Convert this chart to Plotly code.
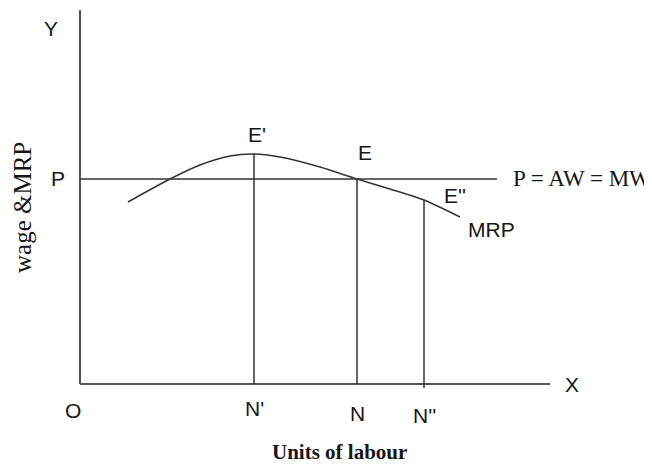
import plotly.graph_objects as go

# MRP curve (units of labour vs wage/MRP, arbitrary units)
mrp_x = [48, 90, 120, 150, 174, 200, 240, 277, 310, 344, 380]
mrp_y = [182, 205, 219, 228, 230, 227, 217, 205, 195, 184, 167]

wage_level = 205          # P = AW = MW
wage_end = 417
n_points = [174, 277, 344]          # N', N, N''
n_values = [230, 205, 184]          # E', E, E''
n_labels = ["N'", "N", "N''"]
e_labels = ["E'", "E", "E''"]
y_axis_top = 374
x_axis_end = 470

LINE = "#333333"
AX = "#555555"
SANS = "Arial, Liberation Sans, sans-serif"
SERIF = "Times New Roman, Liberation Serif, serif"

fig = go.Figure()

# axes
fig.add_trace(go.Scatter(x=[0, 0], y=[0, y_axis_top], mode="lines",
                         line=dict(color=AX, width=2), hoverinfo="skip"))
fig.add_trace(go.Scatter(x=[0, x_axis_end], y=[0, 0], mode="lines",
                         line=dict(color=AX, width=2), hoverinfo="skip"))
# wage line
fig.add_trace(go.Scatter(x=[0, wage_end], y=[wage_level, wage_level], mode="lines",
                         line=dict(color=LINE, width=1.6), hoverinfo="skip"))
# MRP curve
fig.add_trace(go.Scatter(x=mrp_x, y=mrp_y, mode="lines",
                         line=dict(color=LINE, width=1.5, shape="spline", smoothing=0.8),
                         hoverinfo="skip"))
# vertical lines
for i, (nx, ny) in enumerate(zip(n_points, n_values)):
    bottom = -4 if i == 2 else 0
    fig.add_trace(go.Scatter(x=[nx, nx], y=[bottom, ny], mode="lines",
                             line=dict(color=LINE, width=1.5), hoverinfo="skip"))

ann = []
def lab(x, y, t, size=21, font=SANS, **kw):
    ann.append(dict(x=x, y=y, text=t, showarrow=False, xref="x", yref="y",
                    font=dict(family=font, size=size, color="#161616"), **kw))

lab(-29, 356, "Y")
lab(-22, 206, "P")
lab(-7, -26, "O")
lab(492, 0, "X")
for nx, t, dy in zip(n_points, n_labels, [-24, -29, -31]):
    lab(nx, dy, t)
lab(177, 250, e_labels[0])
lab(285, 232, e_labels[1])
lab(375, 189, e_labels[2])
lab(411, 155, "MRP")
lab(502, 206, "P = AW = MW", size=23, font=SERIF)
lab(259, -68, "<b>Units of labour</b>", size=21, font=SERIF)
lab(-58, 176, "wage &amp;MRP", size=25, font=SERIF, textangle=-90)

# page body has an 8px margin; the figure is sized and ranged to compensate
fig.update_layout(
    width=644, height=458,
    margin=dict(l=0, r=0, t=0, b=0),
    paper_bgcolor="white", plot_bgcolor="white",
    showlegend=False,
    xaxis=dict(range=[-72, 572], visible=False, fixedrange=True),
    yaxis=dict(range=[-82, 376], visible=False, fixedrange=True),
    annotations=ann,
)

fig.write_html("out.html")
